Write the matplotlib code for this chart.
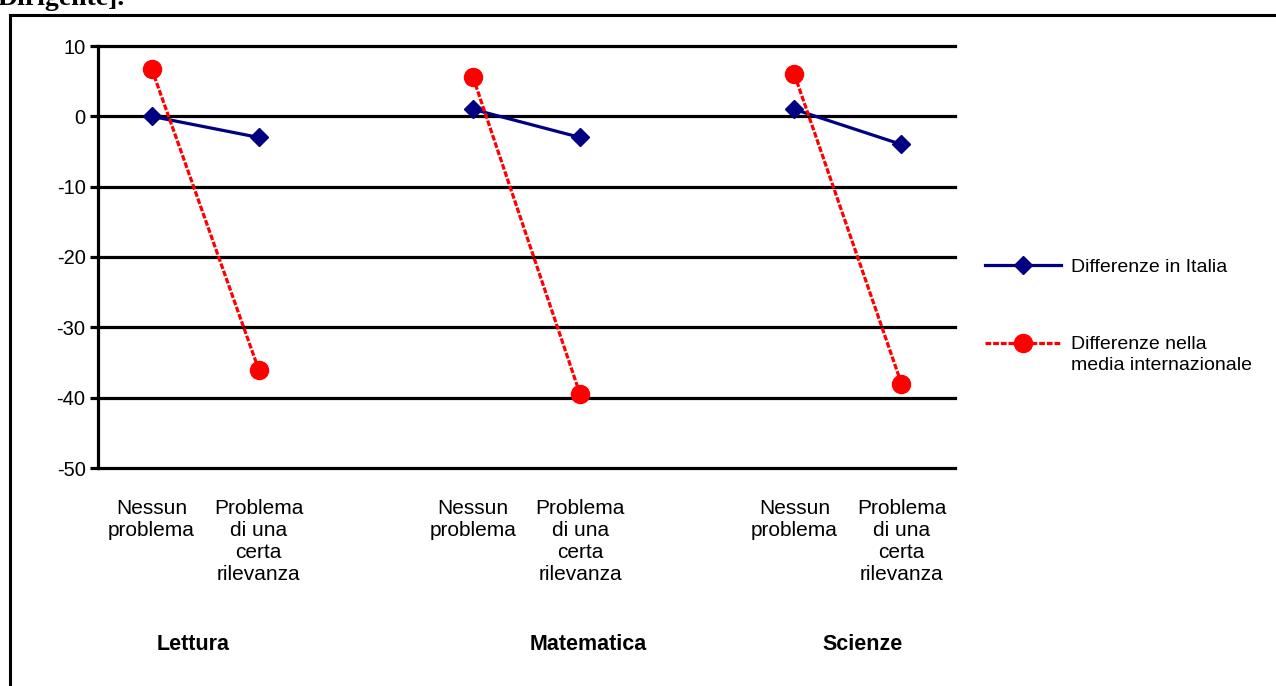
import numpy as np
import matplotlib
matplotlib.use("Agg")
import matplotlib.pyplot as plt
from matplotlib.lines import Line2D
from matplotlib.legend_handler import HandlerLine2D
import matplotlib.transforms as mtransforms

plt.rcParams['font.family'] = ['Liberation Sans', 'DejaVu Sans']
plt.rcParams['axes.unicode_minus'] = False

# ---- data ----
subjects = ["Lettura", "Matematica", "Scienze"]
categories = ["Nessun\nproblema", "Problema\ndi una\ncerta\nrilevanza"]
italia = [0, -3, 1, -3, 1, -4]            # Lettura, Matematica, Scienze (2 each)
internazionale = [6.8, -36, 5.6, -39.5, 6, -38]
series_labels = ["Differenze in Italia", "Differenze nella\nmedia internazionale"]
yticks = [10, 0, -10, -20, -30, -40, -50]
title_fragment = "Dirigente]."

# build 8 category slots (two per subject with an empty slot between groups)
tick_labels = []
y_it = []
y_int = []
for g in range(len(subjects)):
    for k in range(2):
        tick_labels.append(categories[k])
        y_it.append(italia[2 * g + k])
        y_int.append(internazionale[2 * g + k])
    if g < len(subjects) - 1:
        tick_labels.append("")
        y_it.append(np.nan)
        y_int.append(np.nan)
x = np.arange(len(tick_labels))

W, H = 1276, 686
fig = plt.figure(figsize=(W / 100, H / 100), dpi=100)

# outer frame (top and left border)
fig.add_artist(Line2D([10 / W, 1], [1 - 15 / H, 1 - 15 / H], color='black', lw=2.2,
                      transform=fig.transFigure))
fig.add_artist(Line2D([10 / W, 10 / W], [0, 1 - 15 / H], color='black', lw=2.2,
                      transform=fig.transFigure))

# cut title fragment at top
fig.text(-0.002, 1 - 5 / H, title_fragment, fontsize=20, fontweight='bold',
         family='Liberation Serif', va='baseline', ha='left')

ax = fig.add_axes([98 / W, 1 - 468 / H, (955 - 98) / W, (468 - 46) / H])
ax.set_xlim(-0.5, len(tick_labels) - 0.5)
ax.set_ylim(-50, 10)

for yv in yticks:
    ax.axhline(yv, color='black', lw=2.3, zorder=1, clip_on=False)

ax.plot(x, y_it, color='#000080', lw=2.3, marker='D', markersize=9,
        label=series_labels[0], zorder=3)
ax.plot(x, y_int, color='#FF0000', lw=2.3, linestyle=(0, (1.8, 0.6)), marker='o',
        markersize=13, label=series_labels[1], zorder=4)

for s in ['top', 'right', 'bottom']:
    ax.spines[s].set_visible(False)
ax.spines['left'].set_linewidth(2.3)
ax.spines['left'].set_color('black')

ax.set_yticks(yticks)
ax.set_yticklabels([str(v) for v in yticks], fontsize=14.5)
ax.tick_params(axis='y', length=6, width=2.3, pad=3, color='black')
ax.set_xticks(x)
ax.set_xticklabels(tick_labels, fontsize=15)
ax.tick_params(axis='x', length=0, pad=22)

# subject labels
trans = mtransforms.blended_transform_factory(ax.transData, fig.transFigure)
subj_x = [0.39, 4.08, 6.64]
for sx, name in zip(subj_x, subjects):
    ax.text(sx, 1 - 645 / H, name, transform=trans, ha='center', va='center',
            fontsize=15.5, fontweight='bold')


class ShiftedHandler(HandlerLine2D):
    def __init__(self, shift=0.0, **kw):
        super().__init__(**kw)
        self.shift = shift

    def create_artists(self, legend, orig_handle, xdescent, ydescent, width,
                       height, fontsize, trans):
        arts = super().create_artists(legend, orig_handle, xdescent, ydescent,
                                      width, height, fontsize, trans)
        for a in arts:
            a.set_ydata(np.asarray(a.get_ydata()) + self.shift)
        return arts


handles, labels = ax.get_legend_handles_labels()
leg = fig.legend(handles, labels, loc='upper left',
                 bbox_to_anchor=(985 / W, 1 - 258 / H),
                 frameon=False, fontsize=14, handlelength=3.9,
                 handletextpad=0.5, borderpad=0, borderaxespad=0,
                 labelspacing=3.1,
                 handler_map={handles[1]: ShiftedHandler(shift=8.0)})
leg.get_texts()[1].set_linespacing(1.3)

fig.savefig("out.png", dpi=100)
